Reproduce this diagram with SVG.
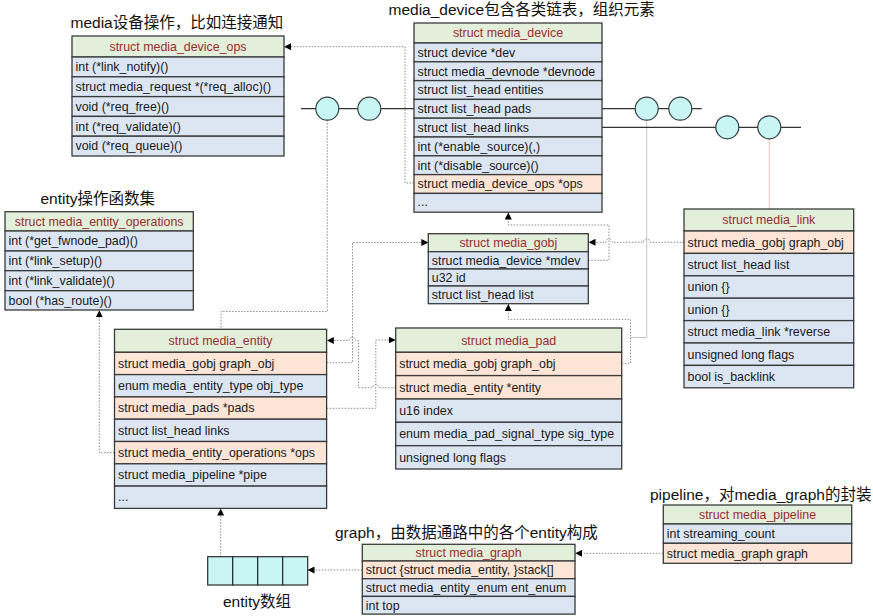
<svg xmlns="http://www.w3.org/2000/svg" width="873" height="616" viewBox="0 0 873 616">
<style>
.hd{fill:#e2efda;stroke:#3a3a3a;stroke-width:1.3}
.bl{fill:#dce6f2;stroke:#3a3a3a;stroke-width:1.3}
.or{fill:#fce4d6;stroke:#3a3a3a;stroke-width:1.3}
.t{font-family:"Liberation Sans",Arial,sans-serif;font-size:12.4px;fill:#1a1a1a}
.h{font-family:"Liberation Sans",Arial,sans-serif;font-size:12.4px;fill:#9b2d30;text-anchor:middle}
.ti{font-family:"Liberation Sans","Noto Sans CJK SC",sans-serif;font-size:15.5px;fill:#111}
.c{fill:none;stroke:#8a8a8a;stroke-width:1;stroke-dasharray:1.5 1.5}
.ch{fill:none;stroke:#333;stroke-width:1.3}
.cir{fill:#c9f5f5;stroke:#2f3f3f;stroke-width:1.2}
.cell{fill:#c9f5f5;stroke:#2a2a2a;stroke-width:1.2}
</style>
<defs>
<marker id="ar" markerWidth="7" markerHeight="7" refX="7" refY="3.5" orient="auto" markerUnits="userSpaceOnUse">
<path d="M0,0 L7,3.5 L0,7 z" fill="#000"/>
</marker>
</defs>
<rect width="873" height="616" fill="#fff"/>

<!-- titles -->
<text class="ti" x="70.5" y="28">media设备操作，比如连接通知</text>
<text class="ti" x="388.5" y="15">media_device包含各类链表，组织元素</text>
<text class="ti" x="40.5" y="204">entity操作函数集</text>
<text class="ti" x="335" y="537.5">graph，由数据通路中的各个entity构成</text>
<text class="ti" x="650" y="499.5">pipeline，对media_graph的封装</text>
<text class="ti" x="223" y="606.5">entity数组</text>

<!-- connectors -->
<g id="connectors">
<!-- circle chains -->
<path class="c" d="M327.3,120.2 V311.5 H221 V329.3"/>
<path d="M646.7,120.2 V337.5 H630.5" fill="none" stroke="#c4c4c4" stroke-width="1"/>
<path d="M769.3,138.8 V209" fill="none" stroke="#e2c4c4" stroke-width="1"/>
<path class="ch" d="M301,108.7 H414"/>
<path class="ch" d="M602,108.7 H701.7"/>
<path class="ch" d="M602,127.3 H801"/>
<circle class="cir" cx="327.3" cy="108.7" r="11.5"/>
<circle class="cir" cx="369.3" cy="108.7" r="11.5"/>
<circle class="cir" cx="646.7" cy="108.7" r="11.5"/>
<circle class="cir" cx="680.3" cy="108.7" r="11.5"/>
<circle class="cir" cx="727.3" cy="127.3" r="11.5"/>
<circle class="cir" cx="769.3" cy="127.3" r="11.5"/>
<!-- dotted arrows -->
<path class="c" d="M414,183 H405 V46.7 H284" marker-end="url(#ar)"/>
<path class="c" d="M588.3,260.3 H609 V225 H508.3 V212.5" marker-end="url(#ar)"/>
<path class="c" d="M684,242.3 H650 A3.3,3.3 0 0 0 643.4,242.3 H612.3 A3.3,3.3 0 0 0 605.7,242.3 H588.5" marker-end="url(#ar)"/>
<path class="c" d="M326.6,362.7 H352.5 V242.5 H428.3" marker-end="url(#ar)"/>
<path class="c" d="M395.7,387.7 H379 A3.2,3.2 0 0 0 372.6,387.7 H358.5 V340.5 H355.7 A3.2,3.2 0 0 0 349.3,340.5 H326.8" marker-end="url(#ar)"/>
<path class="c" d="M326.6,408.3 H375.8 V340 H395.7" marker-end="url(#ar)"/>
<path class="c" d="M621.7,363.3 H630.5 V319.3 H508.3 V304" marker-end="url(#ar)"/>
<path class="c" d="M114.5,452.7 H99.3 V310.3" marker-end="url(#ar)"/>
<path class="c" d="M220.7,556.7 V508.6" marker-end="url(#ar)"/>
<path class="c" d="M362.3,570 H307.5" marker-end="url(#ar)"/>
<path class="c" d="M663.3,553.3 H575.2" marker-end="url(#ar)"/>
</g>

<g id="media_device_ops">
<rect class="hd" x="72" y="36" width="212" height="21"/>
<text class="h" x="178" y="50.8">struct media_device_ops</text>
<rect class="bl" x="72" y="57" width="212" height="19.8"/>
<text class="t" x="75.5" y="71.2">int (*link_notify)()</text>
<rect class="bl" x="72" y="76.8" width="212" height="19.8"/>
<text class="t" x="75.5" y="91">struct media_request *(*req_alloc)()</text>
<rect class="bl" x="72" y="96.6" width="212" height="19.8"/>
<text class="t" x="75.5" y="110.8">void (*req_free)()</text>
<rect class="bl" x="72" y="116.4" width="212" height="19.8"/>
<text class="t" x="75.5" y="130.6">int (*req_validate)()</text>
<rect class="bl" x="72" y="136.2" width="212" height="19.8"/>
<text class="t" x="75.5" y="150.4">void (*req_queue)()</text>
</g>

<g id="media_device">
<rect class="hd" x="414" y="23" width="188" height="20"/>
<text class="h" x="508" y="37.3">struct media_device</text>
<rect class="bl" x="414" y="43" width="188" height="18.8"/>
<text class="t" x="417.5" y="56.7">struct device *dev</text>
<rect class="bl" x="414" y="61.8" width="188" height="18.8"/>
<text class="t" x="417.5" y="75.5">struct media_devnode *devnode</text>
<rect class="bl" x="414" y="80.6" width="188" height="18.8"/>
<text class="t" x="417.5" y="94.3">struct list_head entities</text>
<rect class="bl" x="414" y="99.4" width="188" height="18.8"/>
<text class="t" x="417.5" y="113.1">struct list_head pads</text>
<rect class="bl" x="414" y="118.2" width="188" height="18.8"/>
<text class="t" x="417.5" y="131.9">struct list_head links</text>
<rect class="bl" x="414" y="137" width="188" height="18.8"/>
<text class="t" x="417.5" y="150.7">int (*enable_source)(,)</text>
<rect class="bl" x="414" y="155.8" width="188" height="18.8"/>
<text class="t" x="417.5" y="169.5">int (*disable_source)()</text>
<rect class="or" x="414" y="174.6" width="188" height="18.8"/>
<text class="t" x="417.5" y="188.3">struct media_device_ops *ops</text>
<rect class="bl" x="414" y="193.4" width="188" height="18.8"/>
<text class="t" x="417.5" y="206">...</text>
</g>

<g id="media_entity_operations">
<rect class="hd" x="5" y="211.7" width="188.3" height="19.3"/>
<text class="h" x="99.2" y="225.6">struct media_entity_operations</text>
<rect class="bl" x="5" y="231" width="188.3" height="20"/>
<text class="t" x="8.5" y="245.3">int (*get_fwnode_pad)()</text>
<rect class="bl" x="5" y="251" width="188.3" height="19.7"/>
<text class="t" x="8.5" y="265.1">int (*link_setup)()</text>
<rect class="bl" x="5" y="270.7" width="188.3" height="20"/>
<text class="t" x="8.5" y="285">int (*link_validate)()</text>
<rect class="bl" x="5" y="290.7" width="188.3" height="19.3"/>
<text class="t" x="8.5" y="304.6">bool (*has_route)()</text>
</g>

<g id="media_gobj">
<rect class="hd" x="428.3" y="233.7" width="160" height="18"/>
<text class="h" x="508.3" y="247">struct media_gobj</text>
<rect class="bl" x="428.3" y="251.7" width="160" height="17.3"/>
<text class="t" x="431.8" y="264.6">struct media_device *mdev</text>
<rect class="bl" x="428.3" y="269" width="160" height="17"/>
<text class="t" x="431.8" y="281.8">u32 id</text>
<rect class="bl" x="428.3" y="286" width="160" height="17.7"/>
<text class="t" x="431.8" y="299.2">struct list_head list</text>
</g>

<g id="media_link">
<rect class="hd" x="684" y="209" width="169.7" height="22"/>
<text class="h" x="768.8" y="224.3">struct media_link</text>
<rect class="or" x="684" y="231" width="169.7" height="22.4"/>
<text class="t" x="687.5" y="246.5">struct media_gobj graph_obj</text>
<rect class="bl" x="684" y="253.4" width="169.7" height="22.4"/>
<text class="t" x="687.5" y="268.9">struct list_head list</text>
<rect class="bl" x="684" y="275.8" width="169.7" height="22.4"/>
<text class="t" x="687.5" y="291.3">union {}</text>
<rect class="bl" x="684" y="298.2" width="169.7" height="22.4"/>
<text class="t" x="687.5" y="313.7">union {}</text>
<rect class="bl" x="684" y="320.6" width="169.7" height="22.4"/>
<text class="t" x="687.5" y="336.1">struct media_link *reverse</text>
<rect class="bl" x="684" y="343" width="169.7" height="22.4"/>
<text class="t" x="687.5" y="358.5">unsigned long flags</text>
<rect class="bl" x="684" y="365.4" width="169.7" height="22.4"/>
<text class="t" x="687.5" y="380.9">bool is_backlink</text>
</g>

<g id="media_entity">
<rect class="hd" x="114.5" y="329.3" width="212.1" height="23"/>
<text class="h" x="220.5" y="345.1">struct media_entity</text>
<rect class="or" x="114.5" y="352.3" width="212.1" height="22.3"/>
<text class="t" x="118" y="367.7">struct media_gobj graph_obj</text>
<rect class="bl" x="114.5" y="374.6" width="212.1" height="22.3"/>
<text class="t" x="118" y="390">enum media_entity_type obj_type</text>
<rect class="or" x="114.5" y="396.9" width="212.1" height="22.3"/>
<text class="t" x="118" y="412.3">struct media_pads *pads</text>
<rect class="bl" x="114.5" y="419.2" width="212.1" height="22.3"/>
<text class="t" x="118" y="434.6">struct list_head links</text>
<rect class="or" x="114.5" y="441.5" width="212.1" height="22.3"/>
<text class="t" x="118" y="456.9">struct media_entity_operations *ops</text>
<rect class="bl" x="114.5" y="463.8" width="212.1" height="22.3"/>
<text class="t" x="118" y="479.2">struct media_pipeline *pipe</text>
<rect class="bl" x="114.5" y="486.1" width="212.1" height="22.3"/>
<text class="t" x="118" y="500.5">...</text>
</g>

<g id="media_pad">
<rect class="hd" x="395.7" y="328" width="226" height="24.3"/>
<text class="h" x="508.7" y="344.5">struct media_pad</text>
<rect class="or" x="395.7" y="352.3" width="226" height="23.3"/>
<text class="t" x="399.2" y="368.3">struct media_gobj graph_obj</text>
<rect class="or" x="395.7" y="375.6" width="226" height="23.4"/>
<text class="t" x="399.2" y="391.6">struct media_entity *entity</text>
<rect class="bl" x="395.7" y="399" width="226" height="23.3"/>
<text class="t" x="399.2" y="415">u16 index</text>
<rect class="bl" x="395.7" y="422.3" width="226" height="23.4"/>
<text class="t" x="399.2" y="438.3">enum media_pad_signal_type sig_type</text>
<rect class="bl" x="395.7" y="445.7" width="226" height="23.3"/>
<text class="t" x="399.2" y="461.7">unsigned long flags</text>
</g>

<g id="entity_array">
<rect class="cell" x="207.7" y="556.7" width="25" height="28.3"/>
<rect class="cell" x="232.7" y="556.7" width="25" height="28.3"/>
<rect class="cell" x="257.7" y="556.7" width="25" height="28.3"/>
<rect class="cell" x="282.7" y="556.7" width="25" height="28.3"/>
</g>

<g id="media_graph">
<rect class="hd" x="362.3" y="544.3" width="212.7" height="16.7"/>
<text class="h" x="468.6" y="557">struct media_graph</text>
<rect class="or" x="362.3" y="561" width="212.7" height="17.7"/>
<text class="t" x="365.8" y="574.2">struct {struct media_entity, }stack[]</text>
<rect class="bl" x="362.3" y="578.7" width="212.7" height="17.7"/>
<text class="t" x="365.8" y="591.9">struct media_entity_enum ent_enum</text>
<rect class="bl" x="362.3" y="596.4" width="212.7" height="17.7"/>
<text class="t" x="365.8" y="609.6">int top</text>
</g>

<g id="media_pipeline">
<rect class="hd" x="663.3" y="505" width="188.4" height="19"/>
<text class="h" x="757.5" y="518.8">struct media_pipeline</text>
<rect class="bl" x="663.3" y="524" width="188.4" height="19.3"/>
<text class="t" x="666.8" y="537.9">int streaming_count</text>
<rect class="or" x="663.3" y="543.3" width="188.4" height="20"/>
<text class="t" x="666.8" y="557.6">struct media_graph graph</text>
</g>
</svg>
